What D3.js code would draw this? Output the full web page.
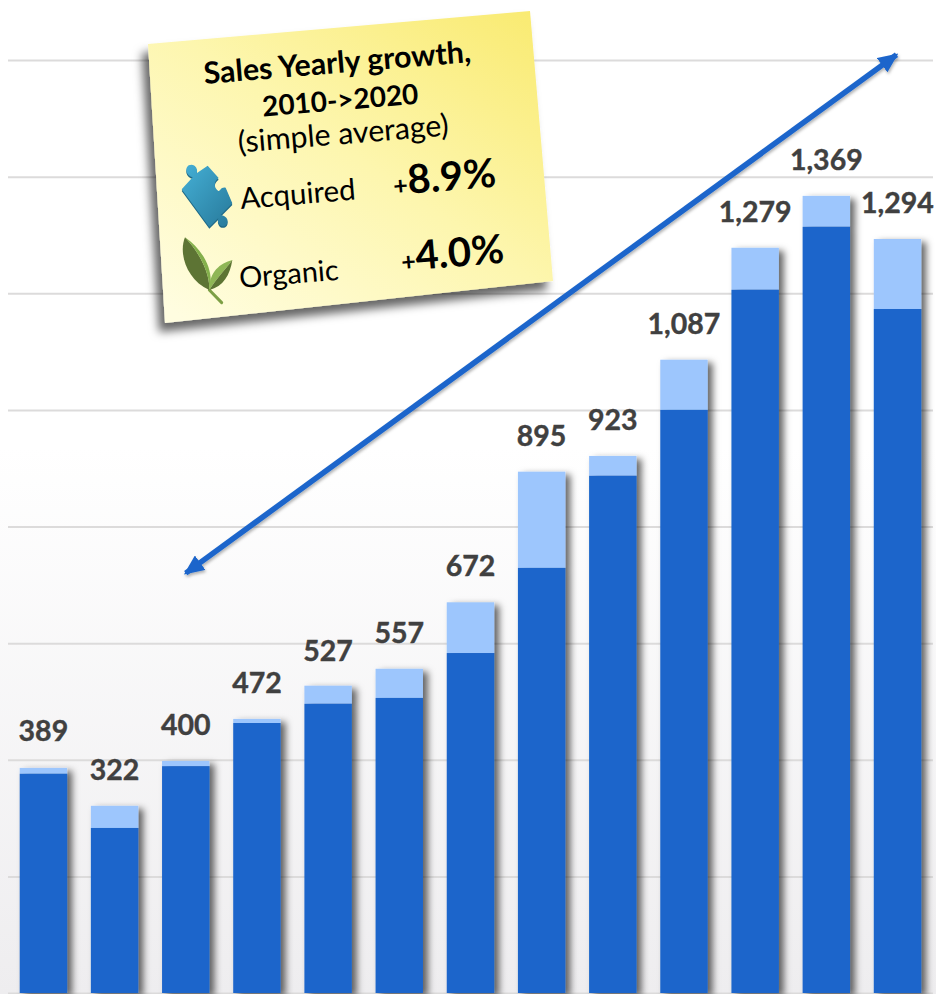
<!DOCTYPE html>
<html>
<head>
<meta charset="utf-8">
<script src="https://cdn.jsdelivr.net/npm/d3@7"></script>
<style>
  html, body { margin: 0; background: #fff; }
  svg { display: block; }
  text { font-family: Lato, "Open Sans", sans-serif; }
</style>
</head>
<body>
<div id="chart"></div>
<script>
const years = [2008, 2009, 2010, 2011, 2012, 2013, 2014, 2015, 2016, 2017, 2018, 2019, 2020];
const totals = [389, 322, 400, 472, 527, 557, 672, 895, 923, 1087, 1279, 1369, 1294];
const organic = [376, 283, 389, 463, 496, 506, 583, 729, 887, 1000, 1206, 1314, 1173];
const acquired = [10, 38, 9, 7, 31, 50, 87, 165, 34, 86, 72, 53, 120];
const gridValues = [0, 200, 400, 600, 800, 1000, 1200, 1400, 1600];
const arrowYears = [2010, 2020];
const arrowValues = [720, 1609];

const width = 936,
  height = 994;

const x = d3.scaleBand().domain(years).range([19.7, 921.2]).paddingInner(0.334);
const y = d3.scaleLinear().domain([0, 1600]).range([993, 60]);
const numFormat = d3.format(",");

const svg = d3.select("#chart").append("svg").attr("width", width).attr("height", height);
const defs = svg.append("defs");

// Page background fades to grey at the bottom
const bg = defs.append("linearGradient").attr("id", "bg").attr("x1", 0).attr("y1", 0).attr("x2", 0).attr("y2", 1);
bg.append("stop").attr("offset", "0.45").attr("stop-color", "#ffffff");
bg.append("stop").attr("offset", "1").attr("stop-color", "#eeedef");
svg.append("rect").attr("width", width).attr("height", height).attr("fill", "url(#bg)");

const noteFill = defs.append("linearGradient").attr("id", "noteFill").attr("x1", 1).attr("y1", 0).attr("x2", 0.1).attr("y2", 1);
noteFill.append("stop").attr("offset", "0").attr("stop-color", "#f9ea6e");
noteFill.append("stop").attr("offset", "0.5").attr("stop-color", "#fdf6ae");
noteFill.append("stop").attr("offset", "1").attr("stop-color", "#fffde0");

const puzzleFill = defs.append("linearGradient").attr("id", "puzzleFill").attr("x1", 0).attr("y1", 0).attr("x2", 1).attr("y2", 1);
puzzleFill.append("stop").attr("offset", "0").attr("stop-color", "#45b0d6");
puzzleFill.append("stop").attr("offset", "1").attr("stop-color", "#27799a");

function addShadow(id, dx, dy, blur, opacity) {
  defs
    .append("filter")
    .attr("id", id)
    .attr("x", "-30%")
    .attr("y", "-20%")
    .attr("width", "160%")
    .attr("height", "140%")
    .append("feDropShadow")
    .attr("dx", dx)
    .attr("dy", dy)
    .attr("stdDeviation", blur)
    .attr("flood-color", "#000")
    .attr("flood-opacity", opacity);
}
addShadow("barShadow", 5, 3, 3.5, 0.6);
addShadow("noteShadow", -6, 9, 5, 0.6);
addShadow("arrowShadow", 1, 2, 1.5, 0.3);

// Gridlines
const grid = svg
  .append("g")
  .attr("transform", "translate(8,0)")
  .call(d3.axisLeft(y).tickValues(gridValues).tickSize(-925).tickFormat(""));
grid.select(".domain").remove();
grid.selectAll("line").attr("stroke", "#dcdbdb").attr("stroke-width", 2);

// Stacked bars
const bars = svg
  .selectAll("g.bar")
  .data(years)
  .join("g")
  .attr("class", "bar")
  .attr("filter", "url(#barShadow)");

bars
  .append("rect")
  .attr("x", (d) => x(d))
  .attr("width", x.bandwidth())
  .attr("y", (d, i) => y(organic[i] + acquired[i]))
  .attr("height", (d, i) => y(organic[i]) - y(organic[i] + acquired[i]))
  .attr("fill", "#9dc6fd");

bars
  .append("rect")
  .attr("x", (d) => x(d))
  .attr("width", x.bandwidth())
  .attr("y", (d, i) => y(organic[i]))
  .attr("height", (d, i) => y(0) - y(organic[i]))
  .attr("fill", "#1b65cb");

// Total labels
svg
  .selectAll("text.total")
  .data(years)
  .join("text")
  .attr("class", "total")
  .attr("x", (d) => x(d) + x.bandwidth() / 2)
  .attr("y", (d, i) => y(totals[i]) - 25)
  .attr("text-anchor", "middle")
  .attr("font-size", 28.5)
  .attr("font-weight", 700)
  .attr("fill", "#404040")
  .attr("stroke", "#404040")
  .attr("stroke-width", 0.4)
  .text((d, i) => numFormat(totals[i]));

// Double headed trend arrow, 2010 to 2020
const arrowHead = defs
  .append("marker")
  .attr("id", "arrowHead")
  .attr("viewBox", "0 0 18 16")
  .attr("refX", 16)
  .attr("refY", 8)
  .attr("markerUnits", "userSpaceOnUse")
  .attr("markerWidth", 20)
  .attr("markerHeight", 18)
  .attr("orient", "auto-start-reverse");
arrowHead.append("path").attr("d", "M0,0L18,8L0,16Z").attr("fill", "#1b65cb");

svg
  .append("line")
  .attr("x1", x(arrowYears[0]) + x.bandwidth() / 2)
  .attr("y1", y(arrowValues[0]))
  .attr("x2", x(arrowYears[1]) + x.bandwidth() / 2 - 1)
  .attr("y2", y(arrowValues[1]))
  .attr("stroke", "#1b65cb")
  .attr("stroke-width", 5.5)
  .attr("marker-start", "url(#arrowHead)")
  .attr("marker-end", "url(#arrowHead)")
  .attr("filter", "url(#arrowShadow)");

// Sticky note
const note = svg.append("g");
note
  .append("path")
  .attr("d", "M148,44L530,11L553,281L165,323Z")
  .attr("fill", "url(#noteFill)")
  .attr("filter", "url(#noteShadow)");

function noteText(px, py, anchor, size, weight, str) {
  return note
    .append("text")
    .attr("transform", `translate(${px},${py}) rotate(-4.7)`)
    .attr("text-anchor", anchor)
    .attr("font-size", size)
    .attr("font-weight", weight)
    .attr("fill", "#000")
    .text(str);
}

noteText(338, 73, "middle", 30.3, 700, "Sales Yearly growth,");
noteText(341, 110, "middle", 28, 700, "2010->2020");
noteText(344, 144, "middle", 30.3, 400, "(simple average)");
noteText(241, 209, "start", 29.5, 400, "Acquired");
noteText(240, 288, "start", 29, 400, "Organic");

function growthText(px, py, value) {
  const t = noteText(px, py, "start", 25, 700, "+");
  t.append("tspan").attr("font-size", 40).text(value);
}
growthText(394, 195, "8.9%");
growthText(402, 271, "4.0%");

// Puzzle piece icon
const puzzle = note.append("g").attr("transform", "translate(170,150) scale(0.3333)");
const puzzlePath =
  "M35,118L68,82C50,78 42,56 56,46C72,38 86,55 80,70L113,47L146,84C132,92 130,112 144,122C152,126 150,110 167,113L187,160L152,195C172,198 180,216 166,227C150,234 140,216 145,204L118,231Z";
puzzle.append("path").attr("d", puzzlePath).attr("fill", "#1f6a88").attr("transform", "translate(0,5)");
puzzle.append("path").attr("d", puzzlePath).attr("fill", "url(#puzzleFill)");

// Leaf icon
const leaf = note.append("g").attr("transform", "translate(170,150) scale(0.3333)");
leaf.append("path").attr("d", "M118,420L155,458").attr("stroke", "#7d9f45").attr("stroke-width", 9).attr("stroke-linecap", "round");
leaf.append("path").attr("d", "M45,262C25,310 50,390 118,420C120,370 90,310 45,262Z").attr("fill", "#5d7434");
leaf.append("path").attr("d", "M45,262C90,310 120,370 118,420C135,365 100,300 45,262Z").attr("fill", "#84b04c");
leaf.append("path").attr("d", "M187,330C150,340 118,365 118,420C140,385 165,360 187,330Z").attr("fill", "#8fb656");
leaf.append("path").attr("d", "M187,330C165,360 140,385 118,420C160,410 180,375 187,330Z").attr("fill", "#5d7434");
</script>
</body>
</html>
